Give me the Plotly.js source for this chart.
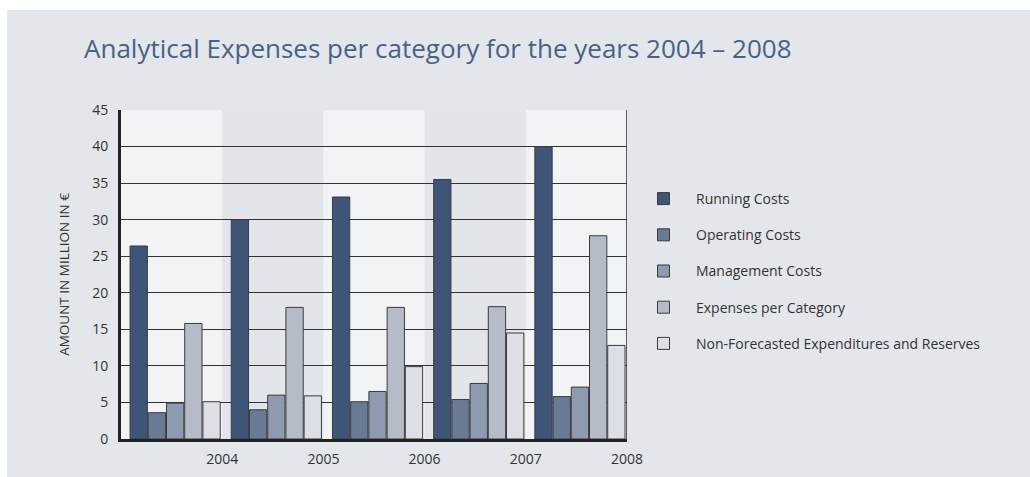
<!DOCTYPE html>
<html>
<head>
<meta charset="utf-8">
<script src="https://cdn.plot.ly/plotly-3.0.1.min.js"></script>
<style>
  html, body { margin: 0; padding: 0; background: #ffffff; }
  #chart { width: 1030px; height: 477px; }
</style>
</head>
<body>
<div id="chart"></div>
<script>
// ---- Data ----
const years = ["2004", "2005", "2006", "2007", "2008"];
const seriesNames = [
  "Running Costs",
  "Operating Costs",
  "Management Costs",
  "Expenses per Category",
  "Non-Forecasted Expenditures and Reserves"
];
const runningCosts    = [26.4, 30.0, 33.1, 35.5, 40.0];
const operatingCosts  = [3.6, 4.0, 5.1, 5.4, 5.8];
const managementCosts = [4.9, 6.0, 6.5, 7.6, 7.1];
const expensesPerCat  = [15.8, 18.0, 18.0, 18.1, 27.8];
const nonForecasted   = [5.1, 5.9, 9.9, 14.5, 12.8];
const yTicks = [0, 5, 10, 15, 20, 25, 30, 35, 40, 45];

// ---- Styles ----
const colors = ["#3f5577", "#687a94", "#8e9ab0", "#b5bcc8", "#dcdfe6"];
const allValues = [runningCosts, operatingCosts, managementCosts, expensesPerCat, nonForecasted];
const shift = 0.035; // bars sit slightly right within each band
const idx = years.map((_, i) => i);

const traces = allValues.map((vals, k) => ({
  type: "bar",
  name: seriesNames[k],
  x: idx,
  y: vals,
  legendgroup: "g" + k,
  marker: { color: colors[k], line: { color: "#3b3b3b", width: 1 } },
  hoverinfo: "name+y"
}));

const lo = -0.5 - shift, hi = years.length - 0.5 - shift;

const PL = 121, PR = 627, PT = 110, PB = 439;
const PW = PR - PL, PH = PB - PT;

const shapes = [
  // card background
  { type: "rect", xref: "paper", yref: "paper",
    x0: (7 - PL) / PW, x1: (1030 - PL) / PW,
    y0: (PB - 477) / PH, y1: (PB - 10) / PH,
    fillcolor: "#e3e6eb", line: { width: 0 }, layer: "below" },
  // plot area light background
  { type: "rect", xref: "x", yref: "paper", x0: lo, x1: hi, y0: 0, y1: 1,
    fillcolor: "#f2f3f5", line: { width: 0 }, layer: "below" }
];
// alternating darker bands
idx.forEach(i => {
  if (i % 2 === 1) {
    shapes.push({ type: "rect", xref: "x", yref: "paper",
      x0: i - 0.5 - shift, x1: i + 0.5 - shift, y0: 0, y1: 1,
      fillcolor: "#e2e5ea", line: { width: 0 }, layer: "below" });
  }
});
// right border
shapes.push({ type: "line", xref: "x", yref: "paper", x0: hi, x1: hi, y0: 0, y1: 1,
  line: { color: "#2a2a2a", width: 1.5 } });

const layout = {
  width: 1030, height: 477,
  margin: { l: PL, r: 1030 - PR, t: PT, b: 477 - PB },
  paper_bgcolor: "#ffffff",
  plot_bgcolor: "rgba(0,0,0,0)",
  font: { family: "Open Sans, sans-serif", color: "#333333", size: 14 },
  title: {
    text: "Analytical Expenses per category for the years 2004 \u2013 2008",
    font: { family: "Open Sans, sans-serif", size: 26, color: "#4a6283" },
    xref: "container", x: 84 / 1030, xanchor: "left",
    yref: "container", y: 1 - 49 / 477, yanchor: "middle"
  },
  barmode: "group",
  bargap: 0.1,
  bargroupgap: 0.05,
  xaxis: {
    range: [lo, hi],
    tickmode: "array",
    tickvals: idx.map(i => i + 0.5 - shift),
    ticktext: years,
    ticks: "",
    showgrid: false,
    zeroline: false,
    showline: true, linecolor: "#222222", linewidth: 3,
    ticklabelstandoff: 5,
    tickfont: { size: 14, color: "#333333" },
    fixedrange: true
  },
  yaxis: {
    range: [0, 45],
    tickmode: "array",
    tickvals: yTicks,
    ticktext: yTicks.map(String),
    ticks: "",
    showgrid: true, gridcolor: "#333333", gridwidth: 1,
    zeroline: false,
    showline: true, linecolor: "#222222", linewidth: 3,
    ticklabelstandoff: 7,
    tickfont: { size: 14, color: "#333333" },
    title: { text: "AMOUNT IN MILLION IN \u20ac", font: { size: 13.5, color: "#333333" }, standoff: 20 },
    fixedrange: true
  },
  legend: {
    x: (631 - PL) / PW, xanchor: "left",
    y: (PB - 183) / PH, yanchor: "top",
    bgcolor: "rgba(0,0,0,0)",
    font: { size: 14, color: "#333333" },
    tracegroupgap: 15,
    itemwidth: 55,
    traceorder: "grouped"
  },
  shapes: shapes,
  showlegend: true
};

Plotly.newPlot("chart", traces, layout, { displayModeBar: false });
</script>
</body>
</html>
